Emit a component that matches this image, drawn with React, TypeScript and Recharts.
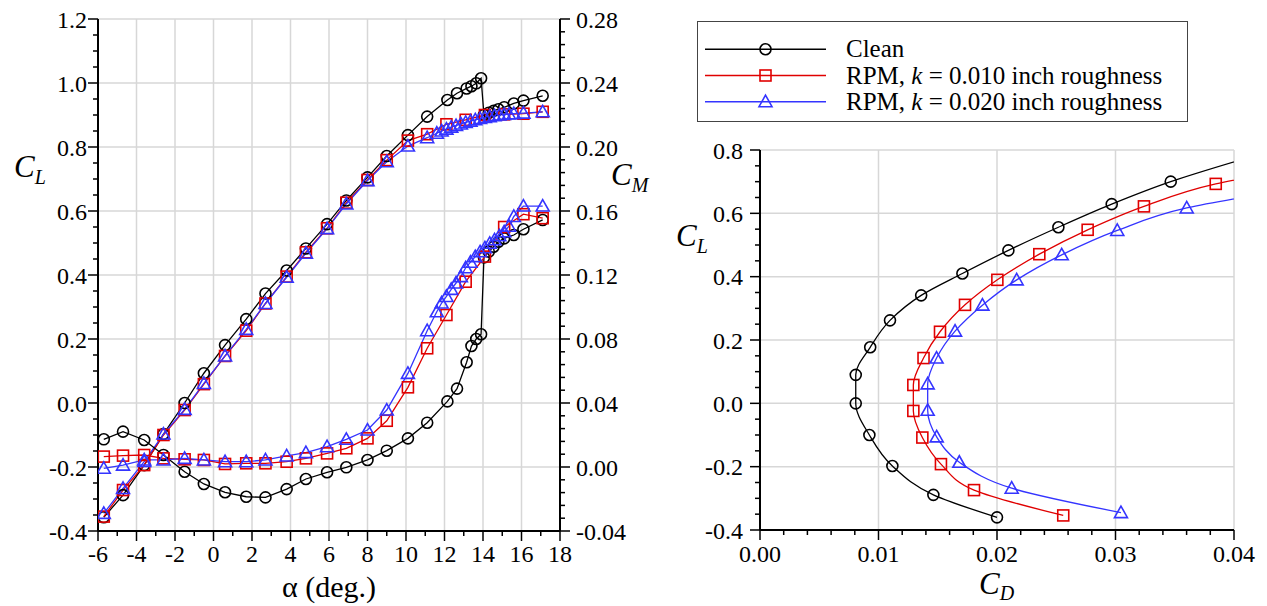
import React from "react";
import { LineChart, Line, XAxis, YAxis, CartesianGrid } from "recharts";

const SERIF = "Liberation Serif, Times New Roman, DejaVu Serif, Noto Serif, serif";
const BLACK = "#000000";
const RED = "#e00000";
const BLUE = "#3434ff";
const GRID = "#d7d7d7";

// ---- left panel: C_L and C_M vs alpha ----
const alphaClean = [-5.7, -4.7, -3.6, -2.6, -1.5, -0.5, 0.6, 1.7, 2.7, 3.8, 4.8, 5.9, 6.9, 8.0, 9.0, 10.1, 11.1, 12.15, 12.65, 13.15, 13.4, 13.65, 13.9, 14.05, 14.3, 14.55, 14.8, 15.1, 15.6, 16.1, 17.1];
const clClean = [-0.357, -0.288, -0.194, -0.097, 0.0, 0.093, 0.181, 0.262, 0.342, 0.414, 0.483, 0.559, 0.633, 0.705, 0.772, 0.837, 0.895, 0.947, 0.968, 0.983, 0.99, 0.999, 1.015, 0.9, 0.907, 0.913, 0.918, 0.924, 0.936, 0.945, 0.96];
const cmClean = [0.0173, 0.0221, 0.0169, 0.0075, -0.003, -0.0106, -0.0158, -0.0186, -0.019, -0.0138, -0.0075, -0.0033, -0.0002, 0.0044, 0.0102, 0.0179, 0.0277, 0.041, 0.049, 0.0655, 0.0756, 0.08, 0.083, 0.131, 0.1346, 0.1377, 0.1408, 0.1429, 0.145, 0.1486, 0.1544];

const alphaK10 = [-5.7, -4.7, -3.6, -2.6, -1.5, -0.5, 0.6, 1.7, 2.7, 3.8, 4.8, 5.9, 6.9, 8.0, 9.0, 10.1, 11.1, 12.1, 13.1, 14.1, 15.1, 16.1, 17.1];
const clK10 = [-0.355, -0.272, -0.194, -0.1, -0.022, 0.059, 0.147, 0.226, 0.311, 0.395, 0.471, 0.546, 0.626, 0.697, 0.759, 0.82, 0.84, 0.871, 0.885, 0.9, 0.902, 0.904, 0.91];
const cmK10 = [0.0065, 0.0071, 0.0075, 0.0054, 0.0048, 0.0044, 0.0019, 0.0023, 0.0023, 0.0033, 0.0054, 0.0085, 0.0117, 0.0179, 0.0289, 0.0498, 0.0742, 0.095, 0.1158, 0.1315, 0.15, 0.158, 0.1555];

const alphaK20 = [-5.7, -4.7, -3.6, -2.6, -1.5, -0.5, 0.6, 1.7, 2.7, 3.8, 4.8, 5.9, 6.9, 8.0, 9.0, 10.1, 11.1, 11.6, 11.85, 12.1, 12.35, 12.6, 12.85, 13.1, 13.35, 13.6, 13.85, 14.1, 14.35, 14.6, 14.85, 15.1, 15.35, 15.6, 16.1, 17.1];
const clK20 = [-0.345, -0.267, -0.183, -0.097, -0.02, 0.061, 0.147, 0.23, 0.311, 0.393, 0.468, 0.545, 0.622, 0.695, 0.754, 0.803, 0.829, 0.843, 0.85, 0.856, 0.862, 0.867, 0.872, 0.877, 0.881, 0.885, 0.889, 0.892, 0.895, 0.898, 0.9, 0.902, 0.903, 0.904, 0.906, 0.91];
const cmK20 = [-0.0008, 0.0012, 0.0044, 0.0044, 0.0054, 0.0044, 0.0033, 0.0033, 0.0044, 0.0069, 0.009, 0.0127, 0.0173, 0.0231, 0.0356, 0.0585, 0.0852, 0.097, 0.1025, 0.1066, 0.111, 0.115, 0.119, 0.1245, 0.128, 0.1315, 0.1345, 0.137, 0.1398, 0.142, 0.1445, 0.147, 0.1505, 0.1566, 0.1631, 0.1631];

// ---- right panel: drag polar ----
const cdClean = [0.02, 0.01463, 0.01117, 0.00923, 0.00808, 0.00808, 0.0093, 0.01097, 0.0136, 0.01708, 0.02096, 0.02518, 0.02968, 0.03466, 0.0405];
const clPolarClean = [-0.36, -0.289, -0.198, -0.1, 0.0, 0.09, 0.177, 0.262, 0.341, 0.41, 0.483, 0.556, 0.629, 0.7, 0.768];
const cdK10 = [0.02559, 0.01806, 0.01527, 0.0137, 0.01294, 0.01294, 0.0138, 0.01519, 0.0173, 0.02003, 0.02357, 0.02765, 0.0324, 0.03846, 0.046];
const clPolarK10 = [-0.354, -0.274, -0.192, -0.108, -0.024, 0.058, 0.143, 0.226, 0.311, 0.39, 0.471, 0.548, 0.622, 0.693, 0.745];
const cdK20 = [0.03046, 0.02124, 0.01682, 0.01491, 0.01415, 0.01415, 0.0149, 0.01646, 0.01877, 0.02166, 0.02546, 0.03015, 0.03601, 0.043];
const clPolarK20 = [-0.345, -0.268, -0.186, -0.106, -0.022, 0.0615, 0.143, 0.228, 0.31, 0.39, 0.469, 0.546, 0.617, 0.665];

// tick labels (major)
const alphaTicks = [-6, -4, -2, 0, 2, 4, 6, 8, 10, 12, 14, 16, 18];
const clTicks = [-0.4, -0.2, 0, 0.2, 0.4, 0.6, 0.8, 1.0, 1.2];
const cmTicks = [-0.04, 0, 0.04, 0.08, 0.12, 0.16, 0.2, 0.24, 0.28];
const cdTicks = [0, 0.01, 0.02, 0.03, 0.04];
const clPolarTicks = [-0.4, -0.2, 0, 0.2, 0.4, 0.6, 0.8];

const legendItems = [
  { pre: "Clean", k: "", post: "", color: BLACK, kind: "circle" },
  { pre: "RPM, ", k: "k", post: " = 0.010 inch roughness", color: RED, kind: "square" },
  { pre: "RPM, ", k: "k", post: " = 0.020 inch roughness", color: BLUE, kind: "triangle" },
];

const pairs = (xs: number[], ys: number[], xk: string, yk: string) =>
  xs.map((x, i) => ({ [xk]: x, [yk]: ys[i] }));

// majors plus evenly spaced minor ticks between them
function withMinors(majors: number[], sub: number) {
  const out: number[] = [];
  for (let i = 0; i < majors.length - 1; i++) {
    for (let k = 0; k < sub; k++) {
      out.push(+(majors[i] + ((majors[i + 1] - majors[i]) * k) / sub).toFixed(6));
    }
  }
  out.push(majors[majors.length - 1]);
  return out;
}

function Marker({ kind, cx, cy, color }: { kind: string; cx: number; cy: number; color: string }) {
  if (kind === "circle")
    return <circle cx={cx} cy={cy} r={5.5} fill="none" stroke={color} strokeWidth={1.6} />;
  if (kind === "square")
    return <rect x={cx - 5.5} y={cy - 5.5} width={11} height={11} fill="none" stroke={color} strokeWidth={1.6} />;
  return (
    <path
      d={`M${cx},${cy - 6.5} L${cx + 6.5},${cy + 5} L${cx - 6.5},${cy + 5} Z`}
      fill="none"
      stroke={color}
      strokeWidth={1.6}
    />
  );
}

const dotOf = (kind: string, color: string, maxCd?: number) => (p: any) => {
  const key = `m-${p.index}`;
  if (p.cx == null || p.cy == null) return <g key={key} />;
  if (maxCd !== undefined && p.payload && p.payload.cd > maxCd) return <g key={key} />;
  return (
    <g key={key}>
      <Marker kind={kind} cx={p.cx} cy={p.cy} color={color} />
    </g>
  );
};

const txtStyle = { fontFamily: SERIF };

function makeTick(side: "left" | "right" | "bottom", majors: number[], digits: number, gap: number) {
  return (props: any) => {
    const { x, y, payload } = props;
    const v = payload.value as number;
    const major = majors.some((m) => Math.abs(m - v) < 1e-9);
    const len = major ? 10 : 5;
    const label = major ? v.toFixed(digits) : "";
    const txt = { fontSize: 24, fill: BLACK, style: txtStyle };
    if (side === "left")
      return (
        <g>
          <line x1={x} y1={y} x2={x - len} y2={y} stroke={BLACK} strokeWidth={1.5} />
          {label && (
            <text x={x - gap} y={y + 8.5} textAnchor="end" {...txt}>
              {label}
            </text>
          )}
        </g>
      );
    if (side === "right")
      return (
        <g>
          <line x1={x} y1={y} x2={x + len} y2={y} stroke={BLACK} strokeWidth={1.5} />
          {label && (
            <text x={x + gap} y={y + 8.5} textAnchor="start" {...txt}>
              {label}
            </text>
          )}
        </g>
      );
    return (
      <g>
        <line x1={x} y1={y} x2={x} y2={y + len} stroke={BLACK} strokeWidth={1.5} />
        {label && (
          <text x={x} y={y + gap} textAnchor="middle" {...txt}>
            {label}
          </text>
        )}
      </g>
    );
  };
}

const axisLine = { stroke: BLACK, strokeWidth: 2 };

function Overlay() {
  return (
    <svg width={1267} height={606} style={{ position: "absolute", left: 0, top: 0, pointerEvents: "none" }}>
      <rect x={697.5} y={21.5} width={490} height={100} fill="#fff" stroke="#444" strokeWidth={1} />
      {legendItems.map((it, i) => {
        const y = 49.3 + i * 26.2;
        return (
          <g key={it.pre + i}>
            <line x1={705} y1={y} x2={826} y2={y} stroke={it.color} strokeWidth={1.4} />
            <Marker kind={it.kind} cx={765.5} cy={y} color={it.color} />
            <text x={846} y={y + 8} fontSize={25} fill={BLACK} style={{ ...txtStyle, whiteSpace: "pre" }}>
              {it.pre}
              {it.k && <tspan fontStyle="italic">{it.k}</tspan>}
              {it.post}
            </text>
          </g>
        );
      })}

      <text x={329} y={597} textAnchor="middle" fontSize={30} fill={BLACK} style={txtStyle}>
        α (deg.)
      </text>
      <text x={14} y={177} fontSize={31} fontStyle="italic" fill={BLACK} style={txtStyle}>
        C<tspan fontSize={20} dy={7}>L</tspan>
      </text>
      <text x={611} y={185} fontSize={31} fontStyle="italic" fill={BLACK} style={txtStyle}>
        C<tspan fontSize={20} dy={7}>M</tspan>
      </text>
      <text x={676} y={246} fontSize={31} fontStyle="italic" fill={BLACK} style={txtStyle}>
        C<tspan fontSize={20} dy={7}>L</tspan>
      </text>
      <text x={979} y={594} fontSize={31} fontStyle="italic" fill={BLACK} style={txtStyle}>
        C<tspan fontSize={20} dy={6}>D</tspan>
      </text>
    </svg>
  );
}

export default function App() {
  const liftSeries = [
    { data: pairs(alphaClean, clClean, "a", "v"), color: BLACK, kind: "circle", axis: undefined },
    { data: pairs(alphaK10, clK10, "a", "v"), color: RED, kind: "square", axis: undefined },
    { data: pairs(alphaK20, clK20, "a", "v"), color: BLUE, kind: "triangle", axis: undefined },
    { data: pairs(alphaClean, cmClean, "a", "v"), color: BLACK, kind: "circle", axis: "cm" },
    { data: pairs(alphaK10, cmK10, "a", "v"), color: RED, kind: "square", axis: "cm" },
    { data: pairs(alphaK20, cmK20, "a", "v"), color: BLUE, kind: "triangle", axis: "cm" },
  ];
  const polarSeries = [
    { data: pairs(cdClean, clPolarClean, "cd", "cl"), color: BLACK, kind: "circle" },
    { data: pairs(cdK10, clPolarK10, "cd", "cl"), color: RED, kind: "square" },
    { data: pairs(cdK20, clPolarK20, "cd", "cl"), color: BLUE, kind: "triangle" },
  ];

  return (
    <div style={{ position: "absolute", left: 0, top: 0, width: 1267, height: 606, background: "#fff" }}>
      <div style={{ position: "absolute", left: 0, top: 0 }}>
        <LineChart width={660} height={606} margin={{ top: 19, right: 0, bottom: 0, left: 0 }}>
          <CartesianGrid
            horizontalValues={clTicks}
            verticalValues={alphaTicks}
            stroke={GRID}
            strokeWidth={1.5}
            strokeDasharray=""
          />
          <XAxis
            type="number"
            dataKey="a"
            domain={[-6, 18]}
            ticks={withMinors(alphaTicks, 2)}
            interval={0}
            allowDataOverflow
            height={75}
            tickSize={0}
            tickMargin={0}
            tickLine={false}
            axisLine={axisLine}
            tick={makeTick("bottom", alphaTicks, 0, 31)}
          />
          <YAxis
            type="number"
            domain={[-0.4, 1.2]}
            ticks={withMinors(clTicks, 4)}
            interval={0}
            allowDataOverflow
            width={98}
            tickSize={0}
            tickMargin={0}
            tickLine={false}
            axisLine={axisLine}
            tick={makeTick("left", clTicks, 1, 11)}
          />
          <YAxis
            yAxisId="cm"
            orientation="right"
            type="number"
            domain={[-0.04, 0.28]}
            ticks={withMinors(cmTicks, 5)}
            interval={0}
            allowDataOverflow
            width={100}
            tickSize={0}
            tickMargin={0}
            tickLine={false}
            axisLine={axisLine}
            tick={makeTick("right", cmTicks, 2, 16)}
          />
          {liftSeries.map((s, i) => (
            <Line
              key={i}
              data={s.data}
              dataKey="v"
              yAxisId={s.axis ?? 0}
              type="linear"
              stroke={s.color}
              strokeWidth={1.3}
              dot={dotOf(s.kind, s.color)}
              activeDot={false}
              isAnimationActive={false}
            />
          ))}
        </LineChart>
      </div>

      <div style={{ position: "absolute", left: 660, top: 0 }}>
        <LineChart width={607} height={606} margin={{ top: 150, right: 33, bottom: 0, left: 0 }}>
          <CartesianGrid
            horizontalValues={clPolarTicks}
            verticalValues={cdTicks}
            stroke={GRID}
            strokeWidth={1.5}
            strokeDasharray=""
          />
          <XAxis
            type="number"
            dataKey="cd"
            domain={[0, 0.04]}
            ticks={withMinors(cdTicks, 5)}
            interval={0}
            allowDataOverflow
            height={76}
            tickSize={0}
            tickMargin={0}
            tickLine={false}
            axisLine={axisLine}
            tick={makeTick("bottom", cdTicks, 2, 32)}
          />
          <YAxis
            type="number"
            domain={[-0.4, 0.8]}
            ticks={withMinors(clPolarTicks, 4)}
            interval={0}
            allowDataOverflow
            width={100}
            tickSize={0}
            tickMargin={0}
            tickLine={false}
            axisLine={axisLine}
            tick={makeTick("left", clPolarTicks, 1, 17)}
          />
          {polarSeries.map((s, i) => (
            <Line
              key={i}
              data={s.data}
              dataKey="cl"
              type="monotoneY"
              stroke={s.color}
              strokeWidth={1.3}
              dot={dotOf(s.kind, s.color, 0.0401)}
              activeDot={false}
              isAnimationActive={false}
            />
          ))}
        </LineChart>
      </div>

      <Overlay />
    </div>
  );
}
